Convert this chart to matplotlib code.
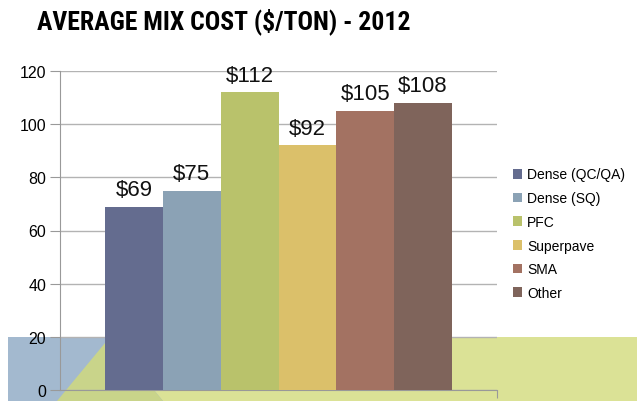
import matplotlib.pyplot as plt
from matplotlib.patches import Rectangle, Polygon

series = ['Dense (QC/QA)', 'Dense (SQ)', 'PFC', 'Superpave', 'SMA', 'Other']
costs = [69, 75, 112, 92, 105, 108]
labels = ['$69', '$75', '$112', '$92', '$105', '$108']
colors = ['#646c8f', '#8ba2b5', '#b9c26b', '#dbc06a', '#a37262', '#7f645b']

W, H = 637, 402
fig = plt.figure(figsize=(W / 100, H / 100), dpi=100)


def fp(x, y):
    # pixel (top-left origin) -> figure fraction
    return (x / W, 1 - y / H)


# slide background decoration
fig.patches.append(Rectangle(fp(8, 402), 160 / W, 64 / H, transform=fig.transFigure,
                             facecolor='#a3b9cf', edgecolor='none', zorder=0))
fig.patches.append(Polygon([fp(110, 338), fp(637, 338), fp(637, 402), fp(163, 402)],
                           closed=True, transform=fig.transFigure,
                           facecolor='#dbe296', edgecolor='none', zorder=0))
fig.patches.append(Polygon([fp(57, 402), fp(110, 338), fp(163, 402)],
                           closed=True, transform=fig.transFigure,
                           facecolor='#c9d48a', edgecolor='none', zorder=0))

ax = fig.add_axes([60 / W, 11 / H, 437 / W, 319 / H])
ax.set_zorder(2)
ax.patch.set_alpha(0)

w = 347 / 437 / 6
for i, (s, v, lab, c) in enumerate(zip(series, costs, labels, colors)):
    x = (i - 2.5) * w
    ax.bar(x, v, width=w, color=c, label=s, zorder=3)
    ax.text(x, v + 2.5, lab, ha='center', va='bottom', fontsize=16,
            family='Liberation Sans', color='#111111', zorder=4)

ax.set_xlim(-0.5, 0.5)
ax.set_ylim(0, 120)
ax.set_yticks(range(0, 121, 20))
ax.set_xticks([0.5])
ax.set_xticklabels([])
ax.tick_params(axis='y', labelsize=11.5, length=7, color='#999999', pad=3)
ax.tick_params(axis='x', length=6, color='#999999')
for t in ax.get_yticklabels():
    t.set_family('Liberation Sans')
ax.yaxis.grid(True, color='#b3b3b3', linewidth=1.0, zorder=1)
ax.set_axisbelow(True)
for side in ['top', 'right']:
    ax.spines[side].set_visible(False)
for side in ['left', 'bottom']:
    ax.spines[side].set_color('#999999')
    ax.spines[side].set_zorder(2)

leg = fig.legend(loc='upper left', bbox_to_anchor=(500 / W, 1 - 156 / H),
                 frameon=False, handlelength=0.7, handleheight=0.7,
                 handletextpad=0.35, labelspacing=0.7,
                 prop={'family': 'Liberation Sans', 'size': 10})

fig.text(37 / W, 1 - 8 / H, 'AVERAGE MIX COST ($/TON) - 2012', ha='left', va='top',
         fontsize=18.5, fontweight='bold',
         family=['Liberation Sans Narrow', 'Roboto Condensed', 'Liberation Sans'])

fig.savefig('out.png', dpi=100)
